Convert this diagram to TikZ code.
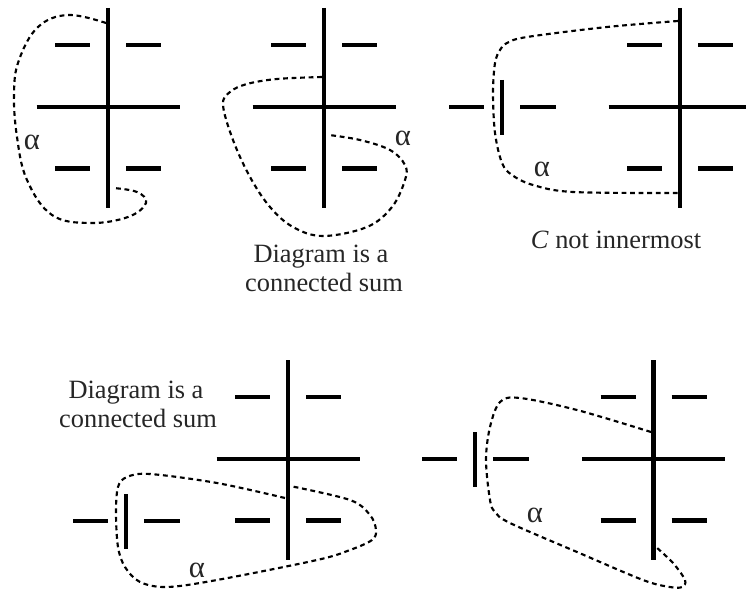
\documentclass[tikz,border=0pt]{standalone}
\usepackage{fontspec}
\setmainfont{Liberation Serif}
\tikzset{
  heavy/.style={line width=3.5pt},
  loopcurve/.style={line width=1.6pt,dash pattern=on 3.6pt off 2.8pt},
  lab/.style={anchor=base,inner sep=0pt,font=\fontsize{19.8}{22}\selectfont,text=black!85},
  alphalab/.style={inner sep=0pt,font=\fontsize{23}{25}\selectfont,text=black!85},
}
\newcommand{\crossfig}[3]{% centre x, centre y, top y of vertical
  \draw[heavy] (#1,#3) -- (#1,#3+200);
  \draw[heavy] (#1-71.5,#2) -- (#1+71.5,#2);
  \draw[heavy] (#1-53,#2-62) -- (#1-18,#2-62);
  \draw[heavy] (#1+18,#2-62) -- (#1+53,#2-62);
  \draw[heavy] (#1-53,#2+61.5) -- (#1-18,#2+61.5);
  \draw[heavy] (#1+18,#2+61.5) -- (#1+53,#2+61.5);
}
\newcommand{\barfig}[3]{% bar x, row y, dummy
  \draw[heavy] (#1-53,#2) -- (#1-18,#2);
  \draw[heavy] (#1,#2-27) -- (#1,#2+28);
  \draw[heavy] (#1+18,#2) -- (#1+54,#2);
}
\begin{document}
\begin{tikzpicture}[x=0.75pt,y=-0.75pt]
\useasboundingbox (0,0) rectangle (746,592);
\begin{scope}
\clip (0,0) rectangle (746,592);
\crossfig{108}{107}{8}
\crossfig{324}{107}{8}
\crossfig{680}{107}{8}
\crossfig{288}{459}{360}
\crossfig{653.5}{459}{360}
\barfig{502}{107}{}
\barfig{126}{521}{}
\barfig{475}{459}{}
\end{scope}
\draw[loopcurve] plot[smooth,tension=0.65] coordinates {(106,23) (68,15) (38,27) (19,60) (14,93) (17,137) (27,180) (52,215) (90,223) (128,217) (146,203) (137,192) (113,188)};
\draw[loopcurve] plot[smooth,tension=0.6] coordinates {(322,77) (277,79) (247,84) (230,92) (223,105) (233,140) (250,177) (270,207) (293,227) (323,236) (367,227) (392,207) (405,180) (405,165) (390,150) (360,140) (329,135)};
\draw[loopcurve] plot[smooth,tension=0.55] coordinates {(678,21) (607,27) (527,37) (507,43) (500,50) (495,63) (493,93) (495,133) (502,163) (512,175) (533,185) (573,192) (678,193)};
\draw[loopcurve] plot[smooth,tension=0.55] coordinates {(285,498) (217,483) (150,474) (127,477) (118,487) (116,513) (118,547) (125,567) (140,582) (167,587) (217,580) (317,560) (350,550) (372,540) (376,530) (370,515) (350,500) (290,486)};
\draw[loopcurve] plot[smooth,tension=0.55] coordinates {(651,432) (577,410) (520,398) (500,402) (490,427) (486,460) (490,500) (495,512) (510,523) (577,552) (643,580) (670,587) (682,587) (685,580) (673,563) (656,547)};
\node[alphalab] (a1) at (32,142) {α};
\node[alphalab] (a2) at (403,138) {α};
\node[alphalab] (a3) at (542,169) {α};
\node[alphalab] (a4) at (197,570) {α};
\node[alphalab] (a5) at (535,515) {α};
\node[lab] (t1) at (321,262) {Diagram is a};
\node[lab] (t2) at (324,291) {connected sum};
\node[lab] (t3) at (616,248) {\textit{C} not innermost};
\node[lab] (t4) at (136,398) {Diagram is a};
\node[lab] (t5) at (138,427) {connected sum};
\end{tikzpicture}
\end{document}
